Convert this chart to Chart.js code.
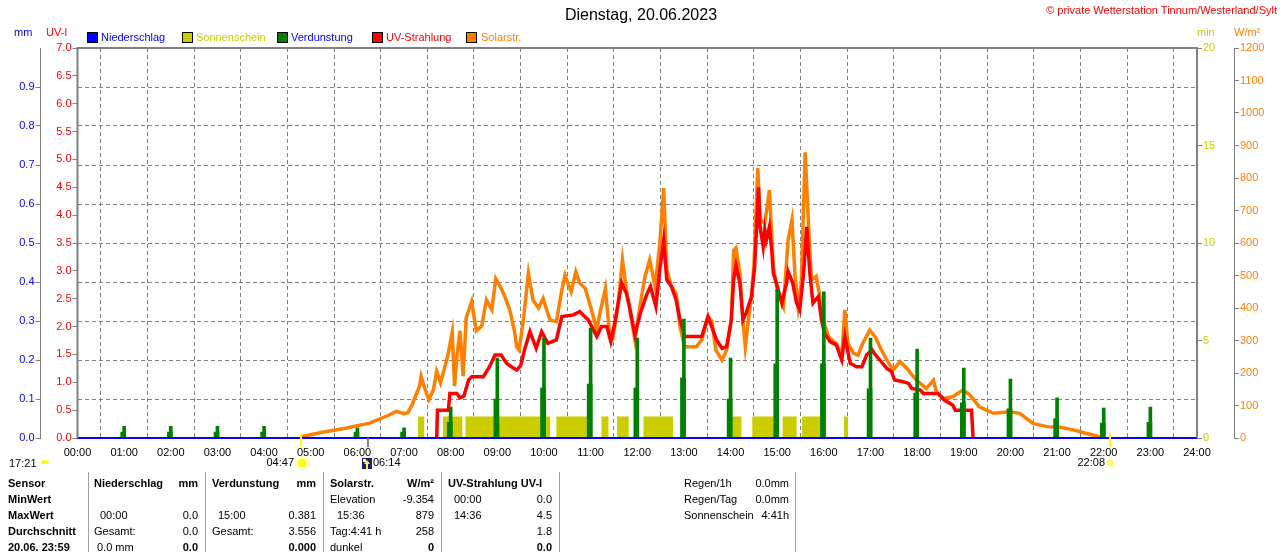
<!DOCTYPE html>
<html>
<head>
<meta charset="utf-8">
<script src="https://cdn.jsdelivr.net/npm/chart.js@4.4.0/dist/chart.umd.min.js"></script>
<style>
body { margin: 0; width: 1280px; height: 552px; overflow: hidden; background: #fff; position: relative;
       font-family: "Liberation Sans", Arial, sans-serif; font-size: 11px; color: #000; }
#chart { position: absolute; left: 0; top: 0; }
.t { position: absolute; white-space: nowrap; line-height: 13px; }
.b { font-weight: bold; }
.sq { position: absolute; top: 32px; width: 9px; height: 9px; border: 1px solid #000; }
.vl { position: absolute; top: 472px; height: 80px; width: 1px; background: #a0a0a0; }
</style>
</head>
<body>
<canvas id="chart" width="1280" height="552"></canvas>

<div class="t" style="left:0;width:1282px;text-align:center;top:6px;font-size:16px;line-height:18px">Dienstag, 20.06.2023</div>
<div class="t" style="right:3px;top:4px;color:#ff0000">© private Wetterstation Tinnum/Westerland/Sylt</div>

<div class="t" style="left:14px;top:26px;color:#0000ff">mm</div>
<div class="t" style="left:46px;top:26px;color:#ff0000">UV-I</div>
<div class="sq" style="left:87px;background:#0000ff"></div>
<div class="t" style="left:101px;top:31px;color:#0000ff">Niederschlag</div>
<div class="sq" style="left:182px;background:#cccc00"></div>
<div class="t" style="left:196px;top:31px;color:#cccc00">Sonnenschein</div>
<div class="sq" style="left:277px;background:#008000"></div>
<div class="t" style="left:291px;top:31px;color:#0000ff">Verdunstung</div>
<div class="sq" style="left:372px;background:#ff0000"></div>
<div class="t" style="left:386px;top:31px;color:#ff0000">UV-Strahlung</div>
<div class="sq" style="left:466px;background:#ff8000"></div>
<div class="t" style="left:481px;top:31px;color:#ff8000">Solarstr.</div>
<div class="t" style="left:1197px;top:26px;color:#cccc00">min</div>
<div class="t" style="left:1234px;top:26px;color:#ff8000">W/m²</div>

<div class="t" style="left:9px;top:457px">17:21</div>
<div style="position:absolute;left:41px;top:460px;width:8px;height:4px;border-radius:4px 4px 0 0;background:#ffff00"></div>

<div class="vl" style="left:88px"></div>
<div class="vl" style="left:205px"></div>
<div class="vl" style="left:323px"></div>
<div class="vl" style="left:441px"></div>
<div class="vl" style="left:559px"></div>
<div class="vl" style="left:795px"></div>

<div id="table"></div>

<script>
// Solarstrahlung W/m² (time of day, value)
const solarTimes = [
  '04:47','05:00','05:15','05:30','05:45','06:00','06:15','06:30','06:40','06:50',
  '07:00','07:05','07:10','07:15','07:20','07:22','07:27','07:32','07:38','07:42','07:47','07:52','07:56',
  '08:00','08:02','08:05','08:08','08:12','08:16','08:20','08:27','08:33','08:40','08:46','08:53','08:58',
  '09:03','09:08','09:16','09:22','09:25','09:28','09:31','09:34','09:40','09:46','09:53','09:59',
  '10:04','10:08','10:16','10:23','10:27','10:35','10:41','10:46','10:53',
  '11:00','11:08','11:12','11:19','11:24','11:29','11:35','11:41','11:46','11:50','11:57',
  '12:04','12:10','12:16','12:23','12:29','12:34','12:38','12:44','12:50','12:55',
  '13:01','13:08','13:16','13:23','13:31','13:36','13:41','13:49','13:55',
  '14:01','14:04','14:07','14:12','14:16','14:19','14:23','14:27','14:30','14:35','14:38','14:44','14:50','14:55',
  '15:01','15:08','15:14','15:19','15:23','15:27','15:31','15:36','15:40','15:44','15:50','15:55','15:59',
  '16:06','16:13','16:16','16:23','16:27','16:31','16:38','16:44','16:50','16:59',
  '17:06','17:12','17:21','17:29','17:38','17:47','17:55',
  '18:04','18:12','18:21','18:25','18:34','18:46','18:59',
  '19:08','19:20','19:38','19:59','20:12','20:29','20:47','21:04','21:21','21:38','21:51','22:00'
];
const solarValues = [
  3, 10, 18, 24, 30, 38, 45, 60, 70, 82,
  75, 78, 100, 130, 160, 190, 150, 118, 150, 205, 170, 215, 250,
  300, 325, 160, 250, 330, 190, 370, 420, 330, 345, 425, 395, 490,
  470, 445, 394, 330, 280, 271, 320, 373, 507, 424, 400, 430,
  390, 363, 358, 455, 501, 450, 512, 476, 461,
  404, 332, 384, 460, 332, 312, 404, 548, 455, 400, 302,
  414, 497, 548, 466, 599, 769, 517, 466, 445, 342,
  281, 281, 281, 302, 373, 360, 271, 240, 271,
  363, 578, 585, 507, 363, 281, 363, 435, 527, 831, 671, 661, 763, 527,
  445, 404, 609, 671, 497, 404, 476, 879, 671, 486, 497, 435, 363,
  312, 296, 291, 250, 394, 291, 261, 255, 291, 332,
  312, 281, 240, 209, 235, 214, 189,
  168, 153, 178, 140, 122, 127, 148,
  132, 96, 76, 81, 76, 45, 35, 33, 25, 14, 6, 0
];

// UV-Strahlung UV-I
const uvTimes = [
  '07:42','07:43','07:57','07:59',
  '08:08','08:12','08:17','08:23','08:27','08:42','08:50','08:57',
  '09:05','09:12','09:18','09:25','09:30','09:35','09:42','09:50','09:57',
  '10:05','10:16','10:23','10:38','10:46','10:57',
  '11:08','11:14','11:21','11:26','11:31','11:40','11:46','11:50','11:57',
  '12:04','12:12','12:17','12:24','12:29','12:34','12:38','12:44','12:50','12:55',
  '13:01','13:23','13:31','13:42','13:49','13:55',
  '14:01','14:04','14:07','14:12','14:16','14:20','14:27','14:31','14:36','14:38','14:42','14:44','14:46','14:50','14:53','14:55','14:59',
  '15:06','15:12','15:14','15:20','15:25','15:29','15:34','15:38','15:42','15:46','15:53','15:57',
  '16:01','16:08','16:16','16:23','16:27','16:34','16:42','16:49','16:55',
  '17:02','17:06','17:12','17:21','17:27','17:31','17:42','17:49','17:53',
  '18:04','18:08','18:27','18:35','18:46','18:49',
  '19:10','19:12'
];
const uvValues = [
  0, 0.5, 0.5, 0.8,
  0.8, 0.72, 0.75, 1.04, 1.1, 1.1, 1.28, 1.49,
  1.49, 1.34, 1.28, 1.22, 1.3, 1.58, 1.91, 1.61, 1.91,
  1.7, 1.76, 2.18, 2.21, 2.27, 2.12,
  1.82, 2.0, 2.0, 1.73, 2.06, 2.78, 2.6, 2.36, 1.85,
  2.24, 2.57, 2.72, 2.36, 3.02, 3.55, 2.84, 2.72, 2.48, 2.12,
  1.82, 1.82, 2.18, 1.76, 1.61, 1.64,
  2.12, 2.84, 3.1, 2.78, 2.12, 2.24, 2.54, 3.07, 4.5, 3.79, 3.43, 3.73, 3.55, 3.79, 3.37, 2.96, 2.78,
  2.42, 2.78, 2.99, 2.78, 2.42, 2.3, 2.96, 3.79, 2.96, 2.42, 2.54, 2.12,
  1.88, 1.73, 1.67, 1.4, 1.82, 1.34, 1.28, 1.28, 1.49,
  1.58, 1.5, 1.4, 1.25, 1.19, 1.04, 1.01, 0.98, 0.89,
  0.86, 0.8, 0.8, 0.68, 0.59, 0.5,
  0.5, 0
];

// Sonnenschein (min) - intervals with sunshine
const sunStart = ['07:18','07:50','08:19','10:16','11:14','11:34','12:08','14:02','14:28','15:07','15:32','16:26'];
const sunEnd   = ['07:26','08:15','10:08','10:58','11:23','11:49','12:46','14:14','14:58','15:25','15:58','16:31'];
const sunMinutes = [1.1, 1.1, 1.1, 1.1, 1.1, 1.1, 1.1, 1.1, 1.1, 1.1, 1.1, 1.1];

// Verdunstung mm, hourly
const evapHours = [1, 2, 3, 4, 6, 7, 8, 9, 10, 11, 12, 13, 14, 15, 16, 17, 18, 19, 20, 21, 22, 23];
const evapTop = [0.03, 0.03, 0.03, 0.03, 0.026, 0.026, 0.079, 0.205, 0.256, 0.282, 0.256, 0.305, 0.205, 0.381, 0.375, 0.256, 0.228, 0.179, 0.151, 0.103, 0.077, 0.079];
const evapLow = [0.015, 0.015, 0.015, 0.015, 0.015, 0.015, 0.04, 0.10, 0.128, 0.138, 0.128, 0.154, 0.10, 0.19, 0.19, 0.126, 0.115, 0.09, 0.075, 0.05, 0.038, 0.04];

// Niederschlag mm
const rainTimes = ['00:00', '24:00'];
const rainValues = [0, 0];

// sunrise, daybreak, sunset marks under the axis
const sunriseTime = '04:47';
const dawnTime = '06:14';
const sunsetTime = '22:08';

// table below the chart: [x, row, text, bold, rightAligned]
const tableRows = [484, 500, 516, 532, 548];
const tableCells = [
  [8, 0, 'Sensor', 1, 0], [8, 1, 'MinWert', 1, 0], [8, 2, 'MaxWert', 1, 0], [8, 3, 'Durchschnitt', 1, 0], [8, 4, '20.06. 23:59', 1, 0],
  [94, 0, 'Niederschlag', 1, 0], [198, 0, 'mm', 1, 1], [100, 2, '00:00', 0, 0], [198, 2, '0.0', 0, 1],
  [94, 3, 'Gesamt:', 0, 0], [198, 3, '0.0', 0, 1], [97, 4, '0.0 mm', 0, 0], [198, 4, '0.0', 1, 1],
  [212, 0, 'Verdunstung', 1, 0], [316, 0, 'mm', 1, 1], [218, 2, '15:00', 0, 0], [316, 2, '0.381', 0, 1],
  [212, 3, 'Gesamt:', 0, 0], [316, 3, '3.556', 0, 1], [316, 4, '0.000', 1, 1],
  [330, 0, 'Solarstr.', 1, 0], [434, 0, 'W/m²', 1, 1], [330, 1, 'Elevation', 0, 0], [434, 1, '-9.354', 0, 1],
  [337, 2, '15:36', 0, 0], [434, 2, '879', 0, 1], [330, 3, 'Tag:4:41 h', 0, 0], [434, 3, '258', 0, 1],
  [330, 4, 'dunkel', 0, 0], [434, 4, '0', 1, 1],
  [448, 0, 'UV-Strahlung UV-I', 1, 0], [454, 1, '00:00', 0, 0], [552, 1, '0.0', 0, 1],
  [454, 2, '14:36', 0, 0], [552, 2, '4.5', 0, 1], [552, 3, '1.8', 0, 1], [552, 4, '0.0', 1, 1],
  [684, 0, 'Regen/1h', 0, 0], [789, 0, '0.0mm', 0, 1], [684, 1, 'Regen/Tag', 0, 0], [789, 1, '0.0mm', 0, 1],
  [684, 2, 'Sonnenschein', 0, 0], [789, 2, '4:41h', 0, 1]
];

function toHours(t) {
    const p = t.split(':');
    return Number(p[0]) + Number(p[1]) / 60;
}

function pairs(times, values) {
    return times.map((t, i) => ({ x: toHours(t), y: values[i] }));
}

const table = document.getElementById('table');
tableCells.forEach(c => {
    const d = document.createElement('div');
    d.className = 't' + (c[3] ? ' b' : '');
    d.style.top = (tableRows[c[1]] - 7) + 'px';
    if (c[4]) d.style.right = (1280 - c[0]) + 'px';
    else d.style.left = c[0] + 'px';
    d.textContent = c[2];
    table.appendChild(d);
});

const sunPoints = [{ x: 0, y: 0 }];
sunStart.forEach((s, i) => {
    sunPoints.push({ x: toHours(s), y: sunMinutes[i] });
    sunPoints.push({ x: toHours(sunEnd[i]), y: 0 });
});
sunPoints.push({ x: 24, y: 0 });

const frameAndMarks = {
    id: 'frameAndMarks',
    afterDatasetsDraw(chart) {
        const { ctx, chartArea: a } = chart;
        const xs = chart.scales.x;
        ctx.save();
        ctx.strokeStyle = '#808080';
        ctx.lineWidth = 2;
        ctx.beginPath();
        ctx.moveTo(a.left, a.bottom);
        ctx.lineTo(a.left, a.top);
        ctx.lineTo(a.right, a.top);
        ctx.lineTo(a.right, a.bottom);
        ctx.stroke();

        ctx.font = '11px "Liberation Sans", Arial, sans-serif';
        ctx.fillStyle = '#000';
        ctx.textBaseline = 'middle';

        // sunrise
        let x = Math.round(xs.getPixelForValue(toHours(sunriseTime)));
        ctx.fillStyle = '#ffff00';
        ctx.fillRect(x - 1, a.bottom - 4, 2, 13);
        ctx.beginPath();
        ctx.arc(x + 1, 463, 4.5, 0, Math.PI * 2);
        ctx.fill();
        ctx.strokeStyle = '#ffff80';
        ctx.lineWidth = 1;
        ctx.beginPath();
        ctx.arc(x + 1, 463, 6.5, 0, Math.PI * 2);
        ctx.stroke();
        ctx.fillStyle = '#000';
        ctx.textAlign = 'right';
        ctx.fillText(sunriseTime, x - 7, 463);

        // daybreak
        x = Math.round(xs.getPixelForValue(toHours(dawnTime)));
        ctx.fillStyle = '#808080';
        ctx.fillRect(x - 1, a.bottom, 2, 9);
        ctx.fillStyle = '#1c1c80';
        ctx.fillRect(x - 6, 458, 10, 11);
        ctx.fillStyle = '#ffffff';
        ctx.fillRect(x - 5, 459, 3, 3);
        ctx.fillStyle = '#ffff00';
        ctx.beginPath();
        ctx.moveTo(x - 1, 460);
        ctx.lineTo(x + 2, 464);
        ctx.lineTo(x - 4, 464);
        ctx.closePath();
        ctx.fill();
        ctx.fillRect(x - 2, 464, 2, 5);
        ctx.fillStyle = '#000';
        ctx.textAlign = 'left';
        ctx.fillText(dawnTime, x + 5, 463);

        // sunset
        x = Math.round(xs.getPixelForValue(toHours(sunsetTime)));
        ctx.fillStyle = '#ffff00';
        ctx.fillRect(x - 1, a.bottom - 5, 2, 14);
        ctx.strokeStyle = '#ffff00';
        ctx.lineWidth = 1.5;
        ctx.beginPath();
        ctx.arc(x, 463, 2.5, 0, Math.PI * 2);
        ctx.stroke();
        ctx.fillStyle = '#000';
        ctx.textAlign = 'right';
        ctx.fillText(sunsetTime, x - 5, 463);
        ctx.restore();
    }
};

Chart.defaults.font.family = '"Liberation Sans", Arial, sans-serif';
Chart.defaults.font.size = 11;

new Chart(document.getElementById('chart').getContext('2d'), {
    type: 'line',
    data: {
        datasets: [
            { label: 'Niederschlag', data: pairs(rainTimes, rainValues), yAxisID: 'mm',
              borderColor: '#0000ff', borderWidth: 2, pointRadius: 0, clip: 4 },
            { type: 'bar', label: 'Verdunstung', data: evapHours.map((h, i) => ({ x: h, y: evapTop[i] })), yAxisID: 'mm',
              backgroundColor: '#008000', barThickness: 3, grouped: false },
            { type: 'bar', label: 'Verdunstung2', data: evapHours.map((h, i) => ({ x: h - 0.02, y: evapLow[i] })), yAxisID: 'mm',
              backgroundColor: '#008000', barThickness: 5, grouped: false },
            { label: 'UV-Strahlung', data: pairs(uvTimes, uvValues), yAxisID: 'uv',
              borderColor: '#ff0000', borderWidth: 3.5, pointRadius: 0, tension: 0 },
            { label: 'Solarstr.', data: pairs(solarTimes, solarValues), yAxisID: 'solar',
              borderColor: '#ff8000', borderWidth: 3.5, pointRadius: 0, tension: 0 },
            { label: 'Sonnenschein', data: sunPoints, yAxisID: 'sun', stepped: true,
              borderWidth: 0, borderColor: '#cccc00', backgroundColor: '#cccc00', fill: 'origin', pointRadius: 0 }
        ]
    },
    options: {
        responsive: false,
        animation: false,
        devicePixelRatio: 1,
        layout: { padding: { top: 48, left: 0, right: 0, bottom: 0 } },
        plugins: { legend: { display: false }, tooltip: { enabled: false } },
        scales: {
            x: {
                type: 'linear', min: 0, max: 24, offset: false,
                afterFit: s => { s.height = 114; },
                ticks: { stepSize: 1, autoSkip: false, maxRotation: 0, color: '#000', padding: 8,
                         callback: v => String(v).padStart(2, '0') + ':00' },
                grid: { color: '#808080', drawTicks: false },
                border: { display: false, dash: [4, 3] }
            },
            mm: {
                type: 'linear', position: 'left', weight: 2, min: 0, max: 1,
                afterFit: s => { s.width = 40.5; },
                afterBuildTicks: s => { s.ticks = s.ticks.filter(t => t.value < 0.95); },
                ticks: { stepSize: 0.1, color: '#0000ff', padding: 1, callback: v => v.toFixed(1) },
                grid: { color: '#808080', tickLength: 5, tickColor: '#808080', tickBorderDash: [] },
                border: { display: true, color: '#808080', width: 1, dash: [4, 3] }
            },
            uv: {
                type: 'linear', position: 'left', weight: 1, min: 0, max: 7,
                afterFit: s => { s.width = 37; },
                ticks: { stepSize: 0.5, color: '#ff0000', padding: 1, callback: v => v.toFixed(1) },
                grid: { drawOnChartArea: false, tickLength: 5, color: '#808080' },
                border: { display: false }
            },
            sun: {
                type: 'linear', position: 'right', weight: 1, min: 0, max: 20,
                afterFit: s => { s.width = 37; },
                ticks: { stepSize: 5, color: '#cccc00', padding: 1, callback: v => String(v) },
                grid: { drawOnChartArea: false, tickLength: 5, color: '#808080' },
                border: { display: false }
            },
            solar: {
                type: 'linear', position: 'right', weight: 2, min: 0, max: 1200,
                afterFit: s => { s.width = 46; },
                ticks: { stepSize: 100, color: '#ff8000', padding: 1, callback: v => String(v) },
                grid: { drawOnChartArea: false, tickLength: 5, color: '#808080' },
                border: { display: true, color: '#808080', width: 1 }
            }
        }
    },
    plugins: [frameAndMarks]
});
</script>
</body>
</html>
